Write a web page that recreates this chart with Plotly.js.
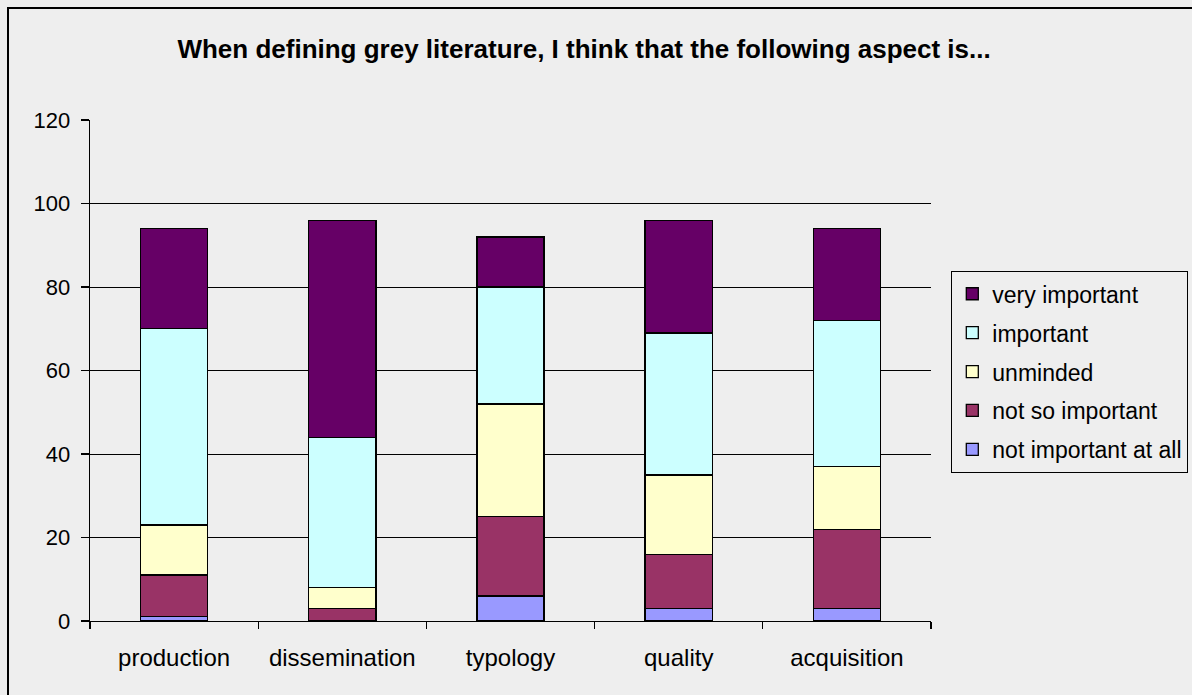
<!DOCTYPE html>
<html>
<head>
<meta charset="utf-8">
<script src="https://cdn.plot.ly/plotly-3.0.1.min.js"></script>
<style>
html,body{margin:0;padding:0;background:#EEEEEE;}
#chart{width:1192px;height:695px;}
</style>
</head>
<body>
<div id="chart"></div>
<script>
const categories = ["production", "dissemination", "typology", "quality", "acquisition"];
const notImportantAtAll = [1, 0, 6, 3, 3];
const notSoImportant = [10, 3, 19, 13, 19];
const unminded = [12, 5, 27, 19, 15];
const important = [47, 36, 28, 34, 35];
const veryImportant = [24, 52, 12, 27, 22];
const seriesNames = ["not important at all", "not so important", "unminded", "important", "very important"];
const seriesColors = ["#9999FF", "#993366", "#FFFFCC", "#CCFFFF", "#660066"];
const yTicks = [0, 20, 40, 60, 80, 100, 120];

const seriesValues = [notImportantAtAll, notSoImportant, unminded, important, veryImportant];
const FONT = "Liberation Sans, Arial, sans-serif";

const traces = seriesValues.map((vals, i) => ({
  type: "bar",
  name: seriesNames[i],
  x: categories,
  y: vals,
  legendgroup: "g" + i,
  legendrank: 100 - i,
  marker: {color: seriesColors[i], line: {color: "#000000", width: 1.3}},
  hoverinfo: "x+y+name"
}));

const layout = {
  width: 1192,
  height: 695,
  paper_bgcolor: "#EEEEEE",
  plot_bgcolor: "#EEEEEE",
  barmode: "stack",
  bargap: 0.6,
  margin: {l: 90, r: 261, t: 120, b: 74},
  font: {family: FONT, size: 22, color: "#000000"},
  title: {
    text: "<b>When defining grey literature, I think that the following aspect is...</b>",
    x: 0.49, xanchor: "center", y: 0.93, yanchor: "middle",
    font: {family: FONT, size: 26, color: "#000000"}
  },
  xaxis: {
    type: "category",
    showline: true, linecolor: "#000000", linewidth: 1.3,
    ticks: "outside", tickson: "boundaries", ticklen: 7, tickcolor: "#000000", tickwidth: 1.3,
    showgrid: false, zeroline: false,
    tickfont: {family: FONT, size: 24},
    ticklabelstandoff: 15
  },
  yaxis: {
    range: [0, 120],
    tickvals: yTicks,
    showline: true, linecolor: "#000000", linewidth: 1.3,
    ticks: "outside", ticklen: 8, tickcolor: "#000000", tickwidth: 1.3,
    showgrid: true, gridcolor: "#000000", gridwidth: 1,
    zeroline: false,
    tickfont: {family: FONT, size: 22},
    ticklabelstandoff: 6
  },
  showlegend: true,
  legend: {
    x: 951 / 1192, y: 1 - 271 / 695,
    xref: "container", yref: "container",
    xanchor: "left", yanchor: "top",
    traceorder: "grouped",
    tracegroupgap: 6,
    bgcolor: "#EEEEEE",
    bordercolor: "#000000", borderwidth: 1.3,
    font: {family: FONT, size: 23},
    itemwidth: 30
  },
  shapes: [{
    type: "rect", xref: "paper", yref: "paper",
    x0: -82 / 841, x1: 1.4, y0: -0.3, y1: 1 + 112 / 501,
    line: {color: "#000000", width: 2}, fillcolor: "rgba(0,0,0,0)", layer: "below"
  }]
};

Plotly.newPlot("chart", traces, layout, {displayModeBar: false, staticPlot: true});
</script>
</body>
</html>
